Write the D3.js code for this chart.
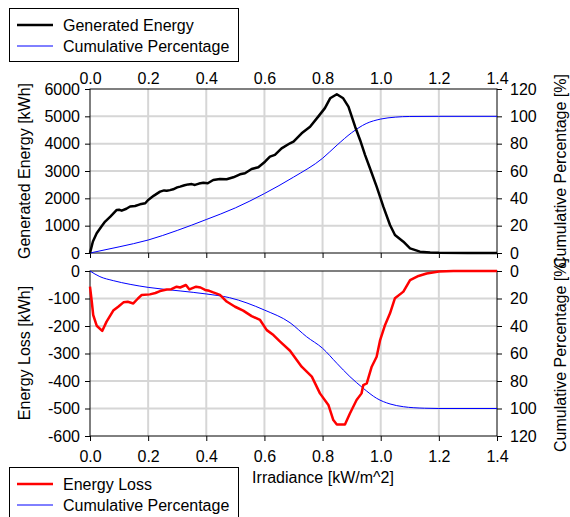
<!DOCTYPE html>
<html>
<head>
<meta charset="utf-8">
<script src="https://cdn.jsdelivr.net/npm/d3@7"></script>
<style>
  body { margin: 0; background: #fff; }
  svg { display: block; font-family: "Liberation Sans", Arial, sans-serif; }
</style>
</head>
<body>
<svg width="570" height="517"></svg>
<script>
// [irradiance kW/m^2, value]
const genEnergy = [
  [0, 0], [0.01, 420], [0.023, 720], [0.04, 980], [0.052, 1150], [0.07, 1330], [0.092, 1575],
  [0.1, 1580], [0.109, 1550], [0.125, 1620], [0.138, 1700], [0.155, 1720], [0.172, 1780],
  [0.19, 1820], [0.2, 1940], [0.22, 2100], [0.241, 2245], [0.255, 2290], [0.264, 2280],
  [0.275, 2300], [0.286, 2330], [0.3, 2400], [0.31, 2430], [0.325, 2480], [0.338, 2510],
  [0.35, 2520], [0.361, 2490], [0.375, 2540], [0.39, 2570], [0.405, 2550], [0.424, 2670],
  [0.447, 2710], [0.47, 2700], [0.493, 2770], [0.516, 2880], [0.533, 2920], [0.556, 3075],
  [0.579, 3135], [0.602, 3340], [0.619, 3525], [0.636, 3590], [0.659, 3830], [0.688, 4015],
  [0.7, 4075], [0.728, 4380], [0.757, 4620], [0.785, 4990], [0.808, 5300], [0.826, 5660],
  [0.849, 5810], [0.871, 5660], [0.889, 5355], [0.912, 4620], [0.929, 4135], [0.946, 3590],
  [0.963, 3100], [0.986, 2430], [1.009, 1695], [1.032, 1025], [1.049, 660], [1.078, 415],
  [1.101, 170], [1.135, 50], [1.17, 15], [1.2, 5], [1.3, 0], [1.4, 0]
];
const genCumPct = [
  [0, 0], [0.1, 4.5], [0.2, 9.5], [0.3, 16.5], [0.4, 24.5], [0.5, 33], [0.6, 43.5],
  [0.7, 55.5], [0.8, 69.3], [0.85, 79], [0.9, 88], [0.95, 94.7], [1.0, 98], [1.05, 99.4],
  [1.1, 99.9], [1.2, 100], [1.4, 100]
];
const lossEnergy = [
  [0, -57], [0.006, -110], [0.011, -160], [0.023, -199], [0.042, -218], [0.057, -184],
  [0.08, -144], [0.097, -130], [0.115, -114], [0.13, -112], [0.149, -118], [0.165, -100],
  [0.178, -87], [0.206, -85], [0.225, -80], [0.241, -73], [0.264, -67], [0.28, -66],
  [0.298, -57], [0.31, -60], [0.33, -51], [0.342, -67], [0.365, -57], [0.38, -60],
  [0.396, -69], [0.41, -72], [0.424, -78], [0.447, -87], [0.47, -111], [0.499, -130],
  [0.527, -144], [0.556, -164], [0.585, -178], [0.608, -215], [0.631, -233], [0.654, -257],
  [0.688, -290], [0.728, -348], [0.763, -384], [0.791, -445], [0.82, -487], [0.837, -542],
  [0.849, -558], [0.877, -558], [0.894, -518], [0.917, -469], [0.934, -445], [0.94, -415],
  [0.952, -409], [0.969, -348], [0.986, -312], [0.998, -251], [1.015, -196], [1.032, -154],
  [1.049, -99], [1.078, -75], [1.101, -33], [1.13, -18], [1.158, -9], [1.2, -2], [1.25, 0],
  [1.4, 0]
];
const lossCumPct = [
  [0, 0], [0.034, 4.1], [0.08, 7], [0.138, 9.7], [0.2, 11.9], [0.31, 14.5], [0.4, 16.7],
  [0.48, 19.4], [0.6, 28.4], [0.688, 37.6], [0.745, 47.8], [0.8, 56.2], [0.849, 67.1],
  [0.894, 76.8], [0.94, 85.3], [0.986, 92.6], [1.032, 96.7], [1.078, 98.7], [1.15, 99.8],
  [1.2, 100], [1.4, 100]
];

const irrTicks = [0, 0.2, 0.4, 0.6, 0.8, 1.0, 1.2, 1.4];
const genTicks = [0, 1000, 2000, 3000, 4000, 5000, 6000];
const lossTicks = [0, -100, -200, -300, -400, -500, -600];
const pctTicks = [0, 20, 40, 60, 80, 100, 120];

const svg = d3.select('svg');
const left = 90, right = 497;
const x = d3.scaleLinear([0, 1.4], [left, right]);
const yGen = d3.scaleLinear([0, 6000], [253, 89]);
const yPctTop = d3.scaleLinear([0, 120], [253, 89]);
const yLoss = d3.scaleLinear([-600, 0], [436, 271]);
const yPctBot = d3.scaleLinear([0, 120], [271, 436]);

const gridColor = '#d6d6d6';
const plain = d => String(d); // keep ascii hyphen, no thousands comma
const oneDec = d => d.toFixed(1);

function grid(yScale, yTicks, top, bottom) {
  let g = svg.append('g');
  g.selectAll('.v').data(irrTicks.slice(1, -1)).join('line')
    .attr('x1', d => x(d)).attr('x2', d => x(d))
    .attr('y1', top).attr('y2', bottom)
    .attr('stroke', gridColor).attr('stroke-width', 2);
  g.selectAll('.h').data(yTicks.slice(1, -1)).join('line')
    .attr('x1', left).attr('x2', right)
    .attr('y1', d => yScale(d)).attr('y2', d => yScale(d))
    .attr('stroke', gridColor).attr('stroke-width', 2);
}
grid(yGen, genTicks, 89, 253);
grid(yLoss, lossTicks, 271, 436);

function styleAxis(g) {
  g.select('.domain').remove();
  g.selectAll('text').attr('font-size', 16).attr('fill', '#000').attr('font-family', null);
  g.selectAll('line').attr('stroke', '#000');
}

// top panel axes
svg.append('g').attr('transform', 'translate(0,89)')
  .call(d3.axisTop(x).tickValues(irrTicks).tickFormat(oneDec).tickSize(0).tickPadding(5))
  .call(styleAxis);
svg.append('g').attr('transform', 'translate(0,253)')
  .call(d3.axisBottom(x).tickValues(irrTicks).tickFormat('').tickSize(5))
  .call(styleAxis);
svg.append('g').attr('transform', `translate(${left},0)`)
  .call(d3.axisLeft(yGen).tickValues(genTicks).tickFormat(plain).tickSize(5).tickPadding(5))
  .call(styleAxis);
svg.append('g').attr('transform', `translate(${right},0)`)
  .call(d3.axisRight(yPctTop).tickValues(pctTicks).tickFormat(plain).tickSize(5).tickPadding(8))
  .call(styleAxis);

// bottom panel axes
svg.append('g').attr('transform', 'translate(0,436)')
  .call(d3.axisBottom(x).tickValues(irrTicks).tickFormat(oneDec).tickSize(5).tickPadding(10))
  .call(styleAxis);
svg.append('g').attr('transform', `translate(${left},0)`)
  .call(d3.axisLeft(yLoss).tickValues(lossTicks).tickFormat(plain).tickSize(5).tickPadding(5))
  .call(styleAxis);
svg.append('g').attr('transform', `translate(${right},0)`)
  .call(d3.axisRight(yPctBot).tickValues(pctTicks).tickFormat(plain).tickSize(5).tickPadding(8))
  .call(styleAxis);

// frames
svg.append('rect').attr('x', left).attr('y', 89).attr('width', right - left).attr('height', 253 - 89)
  .attr('fill', 'none').attr('stroke', '#000');
svg.append('rect').attr('x', left).attr('y', 271).attr('width', right - left).attr('height', 436 - 271)
  .attr('fill', 'none').attr('stroke', '#000');

// series
const lineOf = (ys, curve) => d3.line().x(d => x(d[0])).y(d => ys(d[1])).curve(curve);
svg.append('path').datum(genCumPct).attr('d', lineOf(yPctTop, d3.curveMonotoneX))
  .attr('fill', 'none').attr('stroke', '#0000ff').attr('stroke-width', 1);
svg.append('path').datum(genEnergy).attr('d', lineOf(yGen, d3.curveLinear))
  .attr('fill', 'none').attr('stroke', '#000').attr('stroke-width', 2.5).attr('stroke-linejoin', 'round');
svg.append('path').datum(lossCumPct).attr('d', lineOf(yPctBot, d3.curveMonotoneX))
  .attr('fill', 'none').attr('stroke', '#0000ff').attr('stroke-width', 1);
svg.append('path').datum(lossEnergy).attr('d', lineOf(yLoss, d3.curveLinear))
  .attr('fill', 'none').attr('stroke', '#ff0000').attr('stroke-width', 2.5).attr('stroke-linejoin', 'round');

// axis titles
function vTitle(text, cx, cy) {
  svg.append('text').attr('transform', `translate(${cx},${cy}) rotate(-90)`)
    .attr('text-anchor', 'middle').attr('font-size', 16).text(text);
}
vTitle('Generated Energy [kWh]', 30, 171);
vTitle('Energy Loss [kWh]', 30, 353);
vTitle('Cumulative Percentage [%]', 566, 171);
vTitle('Cumulative Percentage [%]', 566, 355);
svg.append('text').attr('x', 323).attr('y', 483).attr('text-anchor', 'middle')
  .attr('font-size', 16).text('Irradiance [kW/m^2]');

// legends
function legend(y0, items) {
  let g = svg.append('g');
  g.append('rect').attr('x', 9.5).attr('y', y0 + 0.5).attr('width', 229).attr('height', 53)
    .attr('fill', '#fff').attr('stroke', '#000');
  items.forEach((it, i) => {
    let cy = y0 + 17 + i * 21;
    g.append('line').attr('x1', 17).attr('x2', 53).attr('y1', cy).attr('y2', cy)
      .attr('stroke', it.color).attr('stroke-width', it.width);
    g.append('text').attr('x', 63).attr('y', cy + 6).attr('font-size', 16).text(it.label);
  });
}
legend(8, [
  { label: 'Generated Energy', color: '#000', width: 2.5 },
  { label: 'Cumulative Percentage', color: '#0000ff', width: 1 }
]);
legend(467, [
  { label: 'Energy Loss', color: '#ff0000', width: 2.5 },
  { label: 'Cumulative Percentage', color: '#0000ff', width: 1 }
]);
</script>
</body>
</html>
